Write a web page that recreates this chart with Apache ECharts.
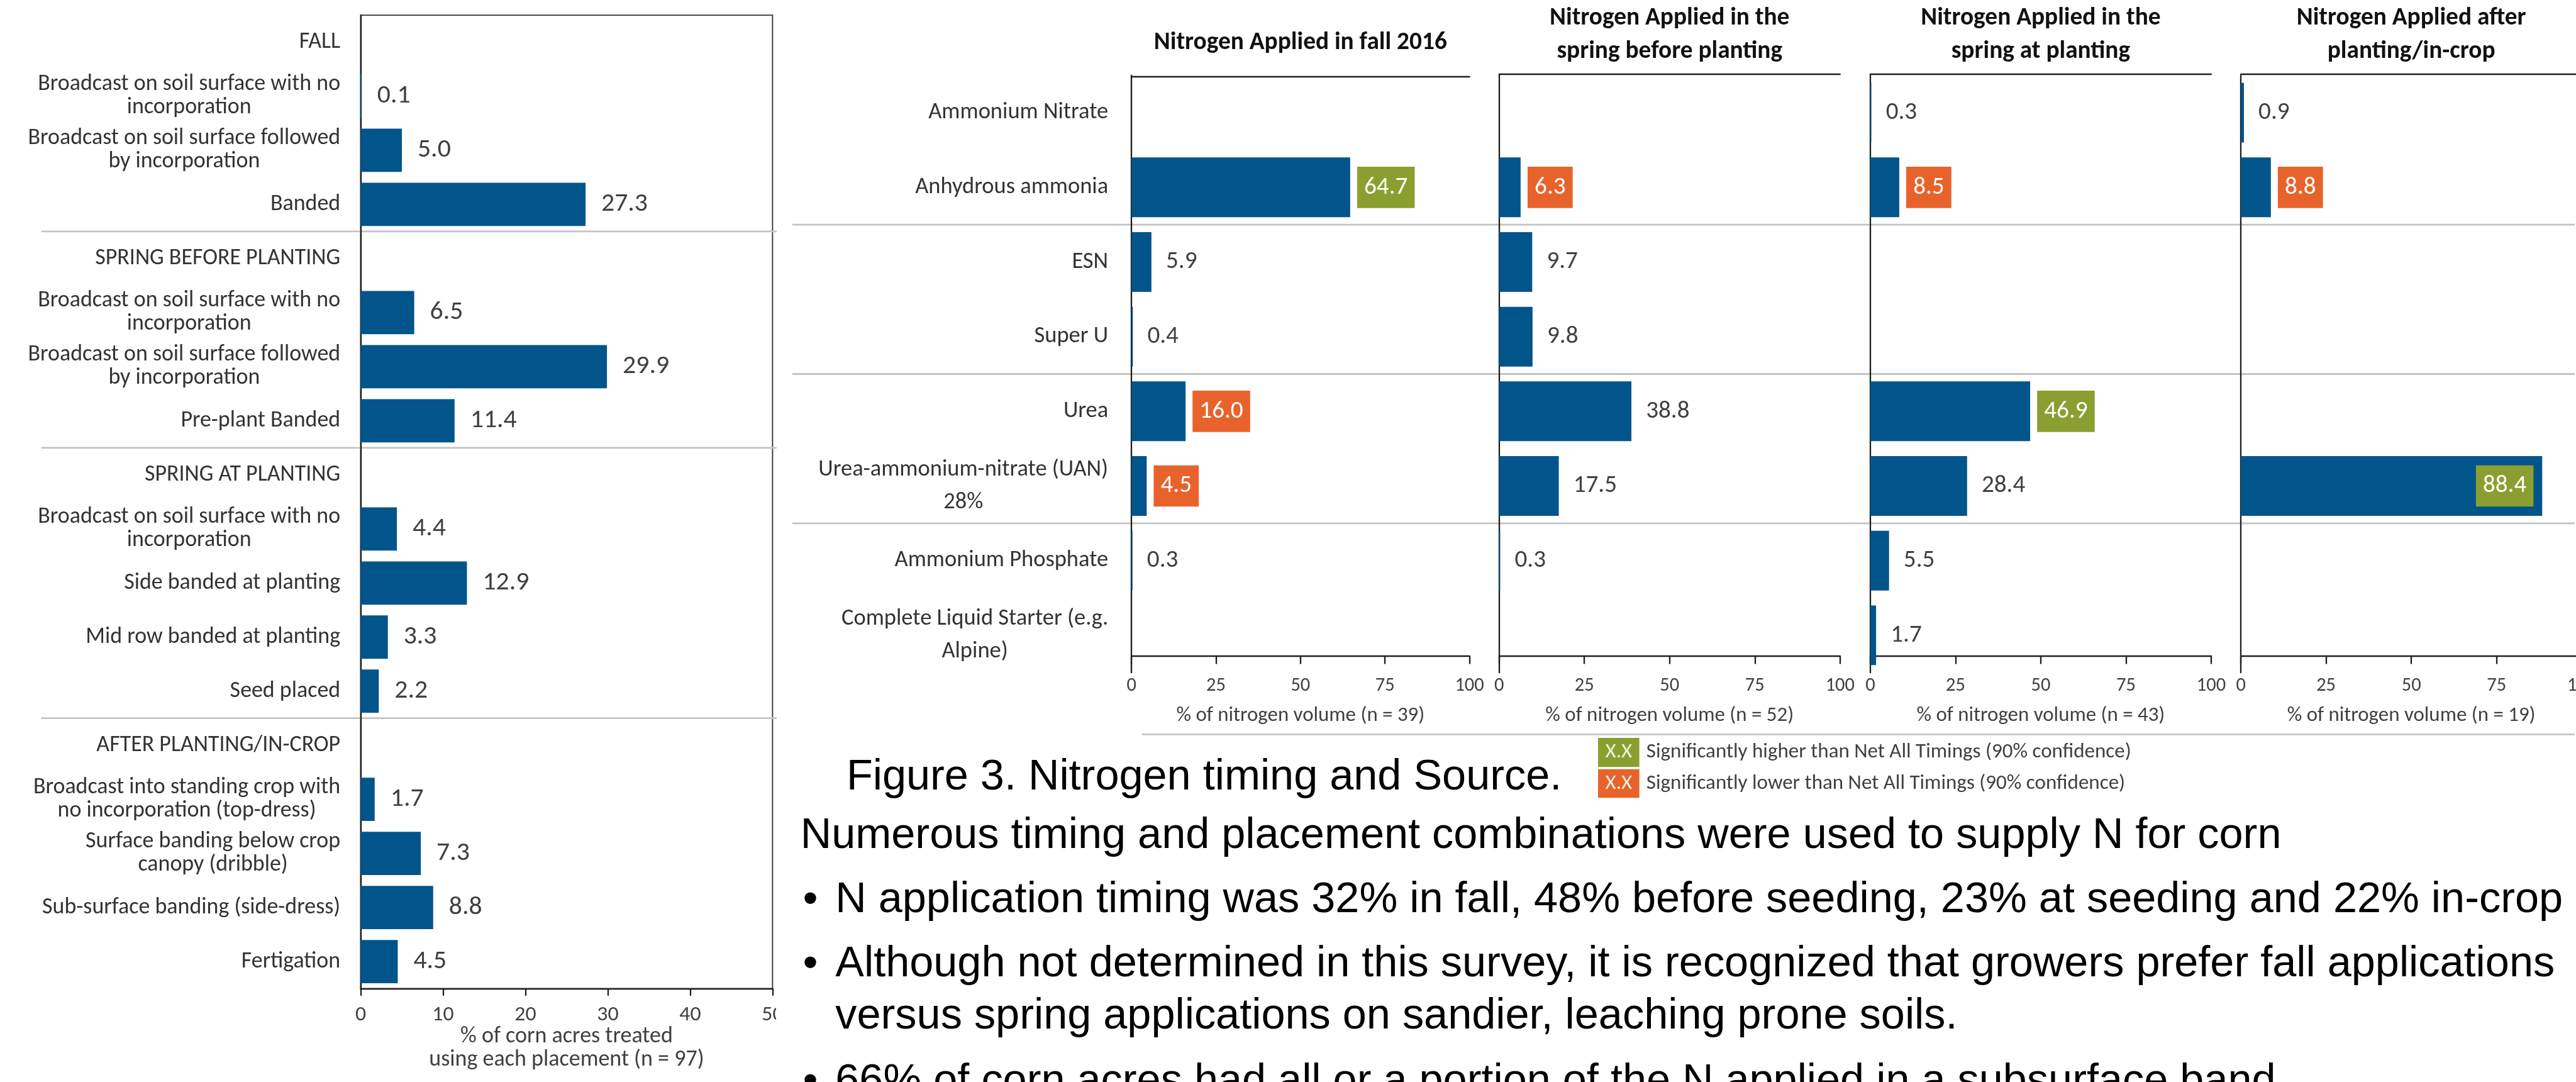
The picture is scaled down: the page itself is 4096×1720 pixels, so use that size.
<!DOCTYPE html>
<html>
<head>
<meta charset="utf-8">
<script src="https://cdn.jsdelivr.net/npm/echarts@6/dist/echarts.min.js"></script>
<style>
html,body{margin:0;padding:0;background:#fff;overflow:hidden}
#c{width:4096px;height:1720px}
</style>
</head>
<body>
<div id="c"></div>
<script>
// ---------------- DATA ----------------
const placementLabels = [
  'FALL',
  'Broadcast on soil surface with no\nincorporation',
  'Broadcast on soil surface followed\nby incorporation',
  'Banded',
  'SPRING BEFORE PLANTING',
  'Broadcast on soil surface with no\nincorporation',
  'Broadcast on soil surface followed\nby incorporation',
  'Pre-plant Banded',
  'SPRING AT PLANTING',
  'Broadcast on soil surface with no\nincorporation',
  'Side banded at planting',
  'Mid row banded at planting',
  'Seed placed',
  'AFTER PLANTING/IN-CROP',
  'Broadcast into standing crop with\nno incorporation (top-dress)',
  'Surface banding below crop\ncanopy (dribble)',
  'Sub-surface banding (side-dress)',
  'Fertigation'
];
const placementValues = [null, 0.1, 5.0, 27.3, null, 6.5, 29.9, 11.4, null, 4.4, 12.9, 3.3, 2.2, null, 1.7, 7.3, 8.8, 4.5];
const placementAxisName = '% of corn acres treated\nusing each placement (n = 97)';

const sourceLabels = [
  'Ammonium Nitrate',
  'Anhydrous ammonia',
  'ESN',
  'Super U',
  'Urea',
  'Urea-ammonium-nitrate (UAN)\n28%',
  'Ammonium Phosphate',
  'Complete Liquid Starter (e.g.\nAlpine)'
];
const fallValues         = [null, 64.7, 5.9, 0.4, 16.0, 4.5, 0.3, null];
const springBeforeValues = [null, 6.3, 9.7, 9.8, 38.8, 17.5, 0.3, null];
const springAtValues     = [0.3, 8.5, null, null, 46.9, 28.4, 5.5, 1.7];
const afterValues        = [0.9, 8.8, null, null, null, 88.4, null, null];
// H = significantly higher, L = significantly lower
const fallSig         = ['', 'H', '', '', 'L', 'L', '', ''];
const springBeforeSig = ['', 'L', '', '', '', '', '', ''];
const springAtSig     = ['', 'L', '', '', 'H', '', '', ''];
const afterSig        = ['', 'L', '', '', '', 'H', '', ''];

const timingTitles = [
  'Nitrogen Applied in fall 2016',
  'Nitrogen Applied in the\nspring before planting',
  'Nitrogen Applied in the\nspring at planting',
  'Nitrogen Applied after\nplanting/in-crop'
];
const timingAxisNames = [
  '% of nitrogen volume (n = 39)',
  '% of nitrogen volume (n = 52)',
  '% of nitrogen volume (n = 43)',
  '% of nitrogen volume (n = 19)'
];
const legendTexts = [
  'Significantly higher than Net All Timings (90% confidence)',
  'Significantly lower than Net All Timings (90% confidence)'
];
const captionText = 'Figure 3. Nitrogen timing and Source.';
const bodyLines = [
  'Numerous timing and placement combinations were used to supply N for corn',
  'N application timing was 32% in fall, 48% before seeding, 23% at seeding and 22% in-crop',
  'Although not determined in this survey, it is recognized that growers prefer fall applications',
  'versus spring applications on sandier, leaching prone soils.',
  '66% of corn acres had all or a portion of the N applied in a subsurface band'
];

// ---------------- STYLE / LAYOUT ----------------
const S = 0.925;
const P = v => v * S;
const BLUE = '#02558b', GREEN = '#8b9f31', ORANGE = '#e8632b';
const SEP = '#c4c4c4', AX = '#1e1e1e', TXT = '#333333', VAL = '#404040';

const ctx = document.createElement('canvas').getContext('2d');
function measure(t, fam, wt) { ctx.font = (wt || 'normal') + ' 100px ' + fam; return ctx.measureText(t).width; }
function has(f) { const s = 'abcdefghijklmnopqrstuvwxyz0123456789'; return measure(s, '"' + f + '", monospace') !== measure(s, 'monospace'); }
const CAL = has('Carlito') ? 'Carlito' : 'Lato';
function fit(t, w, wt) { return 100 * w / measure(t, '"' + CAL + '"', wt); }

const fsLCat  = fit('Broadcast on soil surface with no', P(520));
const fsLVal  = fit('27.3', P(80));
const fsLTick = fit('20', P(37));
const fsLName = fit('using each placement (n = 97)', P(473));
const fsRCat  = fit('Anhydrous ammonia', P(332));
const fsRVal  = fit('64.7', P(75));
const fsRTick = fit('100', P(50));
const fsRName = fit('% of nitrogen volume (n = 39)', P(427));
const fsTitle = fit('Nitrogen Applied in fall 2016', P(504), 'bold');
const fsLeg   = fit(legendTexts[0], P(834));
const fsXX    = fit('X.X', P(46));
const fsBody  = P(74);

// left chart layout (reference px)
const LG = { left: 620, top: 26, width: 708, height: 1673 };
// right charts
const RG = { top: 129.5, height: 1026.4, axisY: 1127, lefts: [1945, 2577, 3215, 3852], widths: [581, 586, 586, 586], frameTop: [132, 127, 127, 127] };

const centerLines = v => v.split('\n').map(l => '{c|' + l + '}').join('\n');
const fmt1 = p => (p.value == null ? '' : Number(p.value).toFixed(1));

const grids = [{ left: P(LG.left), top: P(LG.top), width: P(LG.width), height: P(LG.height), show: true, borderColor: '#333', borderWidth: P(2), containLabel: false, outerBoundsMode: 'none' }];
RG.lefts.forEach((x, i) => grids.push({ left: P(x), top: P(RG.top), width: P(RG.widths[i]), height: P(RG.height), containLabel: false, outerBoundsMode: 'none' }));

const xAxes = [{
  gridIndex: 0, type: 'value', min: 0, max: 50, interval: 10,
  axisLine: { show: true, lineStyle: { color: AX, width: P(2.5) } },
  axisTick: { show: true, length: P(12), lineStyle: { color: AX, width: P(2.5) } },
  splitLine: { show: false },
  axisLabel: { margin: P(27), fontSize: fsLTick, lineHeight: P(36), fontFamily: CAL, color: VAL },
  name: placementAxisName, nameLocation: 'middle', nameGap: P(63), nameMoveOverlap: false,
  nameTextStyle: { fontSize: fsLName, lineHeight: P(40), fontFamily: CAL, color: VAL }
}];
const yAxes = [{
  gridIndex: 0, type: 'category', inverse: true, data: placementLabels,
  axisLine: { show: true, lineStyle: { color: AX, width: P(2.5) } },
  axisTick: { show: false },
  axisLabel: { interval: 0, margin: P(35), formatter: centerLines,
    rich: { c: { align: 'center', fontSize: fsLCat, lineHeight: P(40), fontFamily: CAL, color: TXT } } }
}];
const series = [{
  type: 'bar', xAxisIndex: 0, yAxisIndex: 0, barCategoryGap: '20%',
  itemStyle: { color: BLUE },
  label: { show: true, position: 'right', distance: P(27), formatter: fmt1, fontSize: fsLVal, fontFamily: CAL, color: VAL },
  data: placementValues
}];

const rightValues = [fallValues, springBeforeValues, springAtValues, afterValues];
const rightSig = [fallSig, springBeforeSig, springAtSig, afterSig];
const lhVal = fsRVal * 1.1;
const padV = Math.max(0, (P(71) - lhVal) / 2);

RG.lefts.forEach((x, i) => {
  const gi = i + 1;
  xAxes.push({
    gridIndex: gi, type: 'value', min: 0, max: 100, interval: 25,
    offset: -P(RG.top + RG.height - RG.axisY),
    axisLine: { show: true, lineStyle: { color: AX, width: P(2.5) } },
    axisTick: { show: true, length: P(14), lineStyle: { color: AX, width: P(2.5) } },
    splitLine: { show: false },
    axisLabel: { margin: P(34), fontSize: fsRTick, lineHeight: P(36), fontFamily: CAL, color: VAL },
    name: timingAxisNames[i], nameLocation: 'middle', nameGap: P(83), nameMoveOverlap: false,
    nameTextStyle: { fontSize: fsRName, lineHeight: P(40), fontFamily: CAL, color: VAL }
  });
  yAxes.push({
    gridIndex: gi, type: 'category', inverse: true, data: sourceLabels,
    axisLine: { show: true, lineStyle: { color: AX, width: P(2.5) } },
    axisTick: { show: false },
    axisLabel: { show: i === 0, interval: 0, margin: P(40), formatter: centerLines,
      rich: { c: { align: 'center', fontSize: fsRCat, lineHeight: P(56), fontFamily: CAL, color: TXT } } }
  });
  const vals = rightValues[i], sig = rightSig[i];
  series.push({
    type: 'bar', xAxisIndex: gi, yAxisIndex: gi, barCategoryGap: '20%',
    itemStyle: { color: BLUE },
    label: { show: true, position: 'right', distance: P(25), formatter: fmt1, fontSize: fsRVal, lineHeight: lhVal, fontFamily: CAL, color: VAL },
    data: vals.map((v, k) => {
      if (v == null) return null;
      const s = sig[k];
      if (!s) return v;
      const inside = v > 85;
      return { value: v, label: {
        position: inside ? 'insideRight' : 'right', distance: P(inside ? 15 : 12),
        color: '#ffffff', backgroundColor: s === 'H' ? GREEN : ORANGE, padding: [padV, P(12)]
      } };
    })
  });
});
// frame axes (top border and right border) for the right charts
RG.lefts.forEach((x, i) => {
  const gi = i + 1;
  xAxes.push({ gridIndex: gi, type: 'value', position: 'top', min: 0, max: 100, offset: P(RG.top - RG.frameTop[i]),
    axisLine: { show: true, lineStyle: { color: AX, width: P(2.5) } }, axisTick: { show: false }, axisLabel: { show: false }, splitLine: { show: false } });
  yAxes.push({ gridIndex: gi, type: 'value', position: 'right', min: 0, max: 1,
    axisLine: { show: true, lineStyle: { color: AX, width: P(2) } }, axisTick: { show: false }, axisLabel: { show: false }, splitLine: { show: false } });
});

// ---------------- GRAPHICS (separators, titles, text) ----------------
const graphic = [];
const line = (x1, y1, x2, y2, c, w, z) => graphic.push({ type: 'line', z: z || 0, silent: true,
  shape: { x1: P(x1), y1: P(y1), x2: P(x2), y2: P(y2) }, style: { stroke: c, lineWidth: P(w) } });
const lRow = LG.height / placementLabels.length;
[4, 8, 13].forEach(k => line(71, LG.top + lRow * k, 1335, LG.top + lRow * k, SEP, 3));
const rRow = RG.height / sourceLabels.length;
[2, 4, 6].forEach(k => line(1362, RG.top + rRow * k, 4426, RG.top + rRow * k, SEP, 3));
line(1963, 1262, 4426, 1262, SEP, 3);
// left image edge clips the last tick label
graphic.push({ type: 'rect', z: 100, silent: true, shape: { x: P(1334), y: P(1720), width: P(40), height: P(52) }, style: { fill: '#fff' } });

// chart titles
RG.lefts.forEach((x, i) => {
  const cy = i === 0 ? 74 : 60;
  graphic.push({ type: 'text', z: 10, x: P(x + RG.widths[i] / 2), y: P(cy),
    style: { text: timingTitles[i], align: 'center', verticalAlign: 'middle', fontSize: fsTitle, fontWeight: 'bold', fontFamily: CAL, lineHeight: P(58), fill: '#111' } });
});

// legend
[[1268, 50, GREEN], [1322, 49, ORANGE]].forEach((b, i) => {
  graphic.push({ type: 'rect', z: 10, shape: { x: P(2747), y: P(b[0]), width: P(71), height: P(b[1]) }, style: { fill: b[2] } });
  graphic.push({ type: 'text', z: 11, x: P(2782.5), y: P(b[0] + b[1] / 2),
    style: { text: 'X.X', align: 'center', verticalAlign: 'middle', fontSize: fsXX, fontFamily: CAL, fill: '#eef0e0' } });
  graphic.push({ type: 'text', z: 11, x: P(2830), y: P(b[0] + b[1] / 2),
    style: { text: legendTexts[i], align: 'left', verticalAlign: 'middle', fontSize: fsLeg, fontFamily: CAL, fill: VAL } });
});

// caption and body text (baselines in reference px)
const ARIAL = 'Liberation Sans';
const bodyText = (t, x, baseline) => graphic.push({ type: 'text', z: 10, x: P(x), y: P(baseline) - fsBody * 0.34,
  style: { text: t, align: 'left', verticalAlign: 'middle', fontSize: fsBody, fontFamily: ARIAL, fill: '#000' } });
bodyText(captionText, 1455, 1361);
bodyText(bodyLines[0], 1376, 1462);
bodyText('\u2022', 1380, 1572); bodyText(bodyLines[1], 1436, 1572);
bodyText('\u2022', 1380, 1683); bodyText(bodyLines[2], 1436, 1683);
bodyText(bodyLines[3], 1436, 1772);
bodyText('\u2022', 1380, 1885); bodyText(bodyLines[4], 1436, 1885);

const chart = echarts.init(document.getElementById('c'), null, { renderer: 'canvas', width: 4096, height: 1720 });
chart.setOption({
  animation: false,
  backgroundColor: '#ffffff',
  grid: grids,
  xAxis: xAxes,
  yAxis: yAxes,
  series: series,
  graphic: graphic
});
</script>
</body>
</html>
